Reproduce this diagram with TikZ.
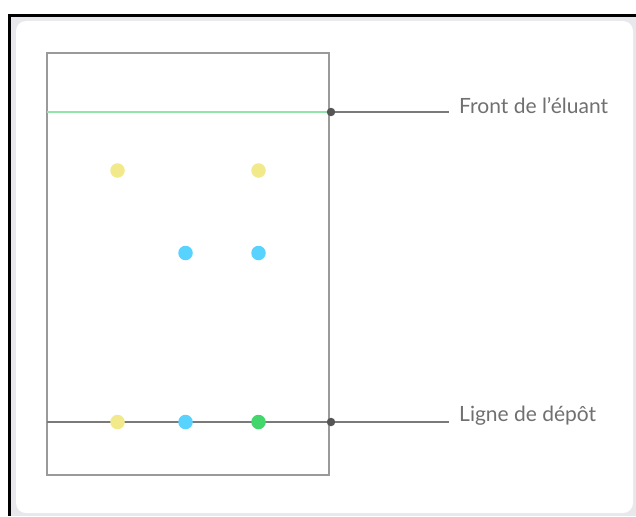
\documentclass[tikz,border=0pt]{standalone}
\usepackage{fontspec}
\setmainfont{Lato}
\definecolor{spotyellow}{HTML}{F2E98A}
\definecolor{spotblue}{HTML}{58D2FF}
\definecolor{spotgreen}{HTML}{42D66C}
\definecolor{frontgreen}{HTML}{92E4AA}
\definecolor{plategray}{HTML}{9A9A9A}
\definecolor{linegray}{HTML}{7A7A7A}
\definecolor{dotgray}{HTML}{555555}
\definecolor{textgray}{HTML}{707070}
\definecolor{cardgray}{HTML}{E8E8EC}
\begin{document}
\begin{tikzpicture}[x=1pt,y=-1pt,
  spot/.style={circle,inner sep=0pt,minimum size=14.5pt,draw=none},
  tick/.style={circle,inner sep=0pt,minimum size=8.5pt,fill=dotgray},
  lbl/.style={anchor=west,inner sep=0pt,text=textgray,font=\fontsize{21}{24}\selectfont},
  guide/.style={draw=linegray,line width=1.4pt}]
\useasboundingbox (0,0) rectangle (636,516);
% outer frame
\fill[white] (0,0) rectangle (636,516);
\fill[cardgray] (11,17) rectangle (636,516);
\fill[white,rounded corners=10pt] (16,21) rectangle (633,513);
\fill[black] (8,14) rectangle (636,17);
\fill[black] (8,14) rectangle (11,516);
% plate
\draw[plategray,line width=1.3pt] (47,53) rectangle (329,475);
% front line
\draw[frontgreen,line width=1.4pt] (47,112) -- (329,112);
\node[tick] (ft) at (331,112) {};
\coordinate (fe) at (449,112);
\draw[guide] (ft) -- (fe);
\node[lbl] (fl) at (459,106) {Front de l’éluant};
% deposit line
\coordinate (ds) at (47,422);
\node[tick] (dt) at (331,422) {};
\coordinate (de) at (449,422);
\draw[guide] (ds) -- (dt) -- (de);
\node[lbl] (dl) at (459,416) {Ligne de dépôt};
% spots
\node[spot,fill=spotyellow] (y1) at (117.5,170.5) {};
\node[spot,fill=spotyellow] (y2) at (258.5,170.5) {};
\node[spot,fill=spotblue] (b1) at (185.5,253) {};
\node[spot,fill=spotblue] (b2) at (258.5,253) {};
\node[spot,fill=spotyellow] (y0) at (117.5,422) {};
\node[spot,fill=spotblue] (b0) at (185.5,422) {};
\node[spot,fill=spotgreen] (g0) at (258.5,422) {};
\end{tikzpicture}
\end{document}
